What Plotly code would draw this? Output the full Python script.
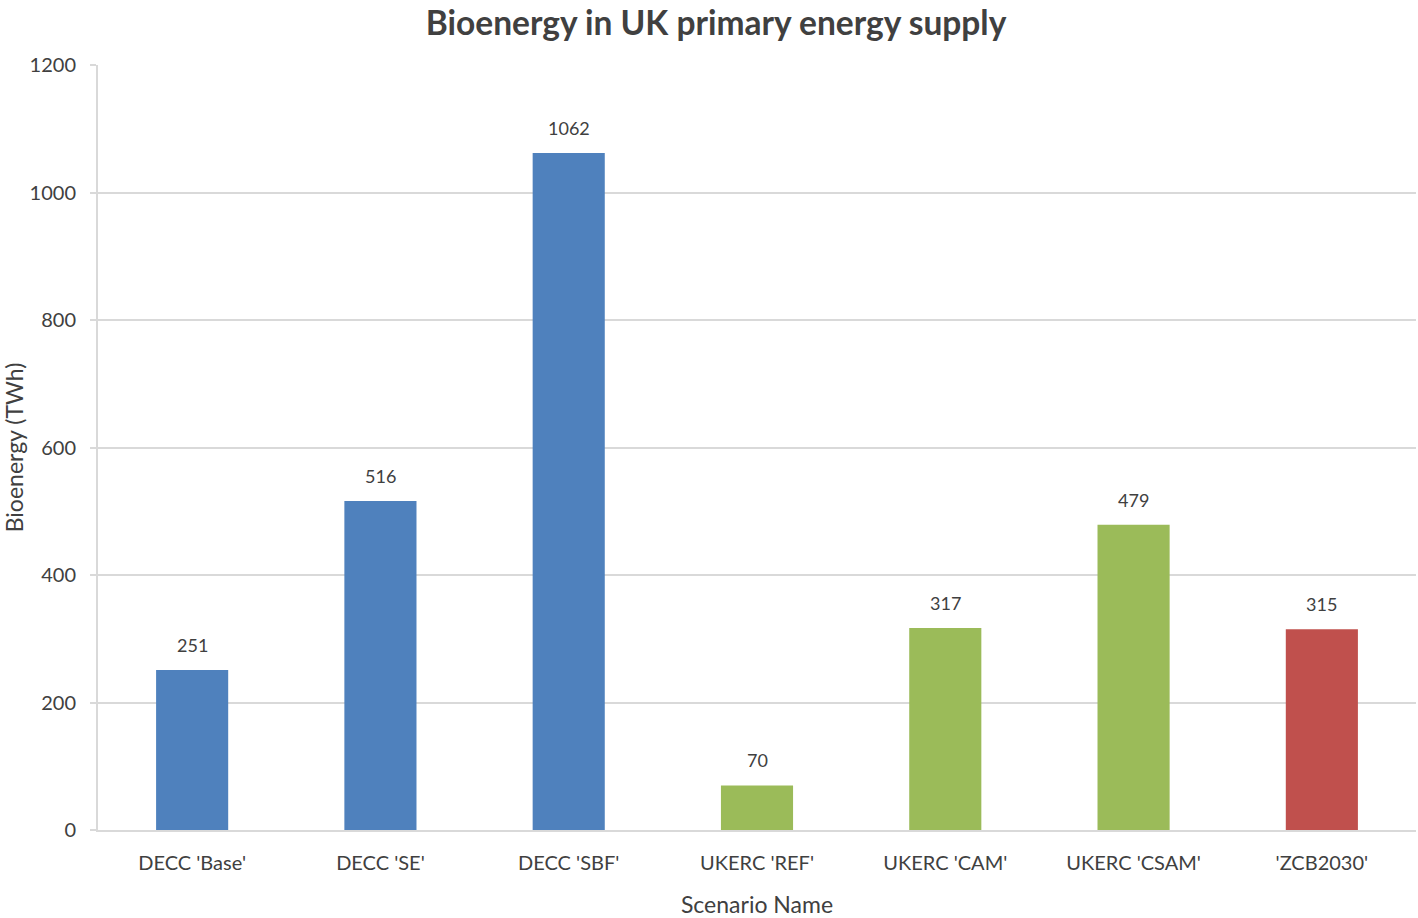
import plotly.graph_objects as go

categories = ["DECC 'Base'", "DECC 'SE'", "DECC 'SBF'", "UKERC 'REF'", "UKERC 'CAM'", "UKERC 'CSAM'", "'ZCB2030'"]
values = [251, 516, 1062, 70, 317, 479, 315]
colors = ["#4F81BD", "#4F81BD", "#4F81BD", "#9BBB59", "#9BBB59", "#9BBB59", "#C0504D"]
y_ticks = [0, 200, 400, 600, 800, 1000, 1200]

font_family = "Lato, Open Sans, sans-serif"
text_color = "#404040"

fig = go.Figure(go.Bar(
    x=categories, y=values,
    marker=dict(color=colors, line=dict(width=0)),
    hoverinfo="x+y",
))

for c, v in zip(categories, values):
    fig.add_annotation(
        x=c, y=v, xref="x", yref="y", text=str(v), showarrow=False,
        yanchor="bottom", yshift=12,
        font=dict(size=18, color=text_color, family=font_family),
    )

fig.update_layout(
    width=1418, height=918,
    margin=dict(l=98, r=2, t=65, b=88),
    paper_bgcolor="white", plot_bgcolor="white",
    bargap=0.617,
    showlegend=False,
    title=dict(text="<b>Bioenergy in UK primary energy supply</b>", x=0.505, xanchor="center",
               xref="container", yref="container", y=0.975, yanchor="middle",
               font=dict(size=33.5, color=text_color, family=font_family)),
    font=dict(family=font_family, color=text_color),
)
fig.update_yaxes(
    range=[0, 1200], tickvals=y_ticks, ticktext=[str(t) for t in y_ticks],
    showgrid=True, gridcolor="#D9D9D9", gridwidth=2,
    showline=True, linecolor="#D9D9D9", linewidth=2,
    ticks="outside", ticklen=6, tickcolor="#D9D9D9", tickwidth=2,
    ticklabelstandoff=10,
    tickfont=dict(size=20, color=text_color),
    title=dict(text="Bioenergy (TWh)", font=dict(size=23, color=text_color), standoff=12),
    zeroline=False,
)
fig.update_xaxes(
    showline=True, linecolor="#D9D9D9", linewidth=2,
    ticks="", ticklabelstandoff=14,
    tickfont=dict(size=20, color=text_color),
    title=dict(text="Scenario Name", font=dict(size=23, color=text_color), standoff=26),
)

fig.write_html("out.html", config={"displayModeBar": False},
               post_script="document.body.style.margin='0';")
